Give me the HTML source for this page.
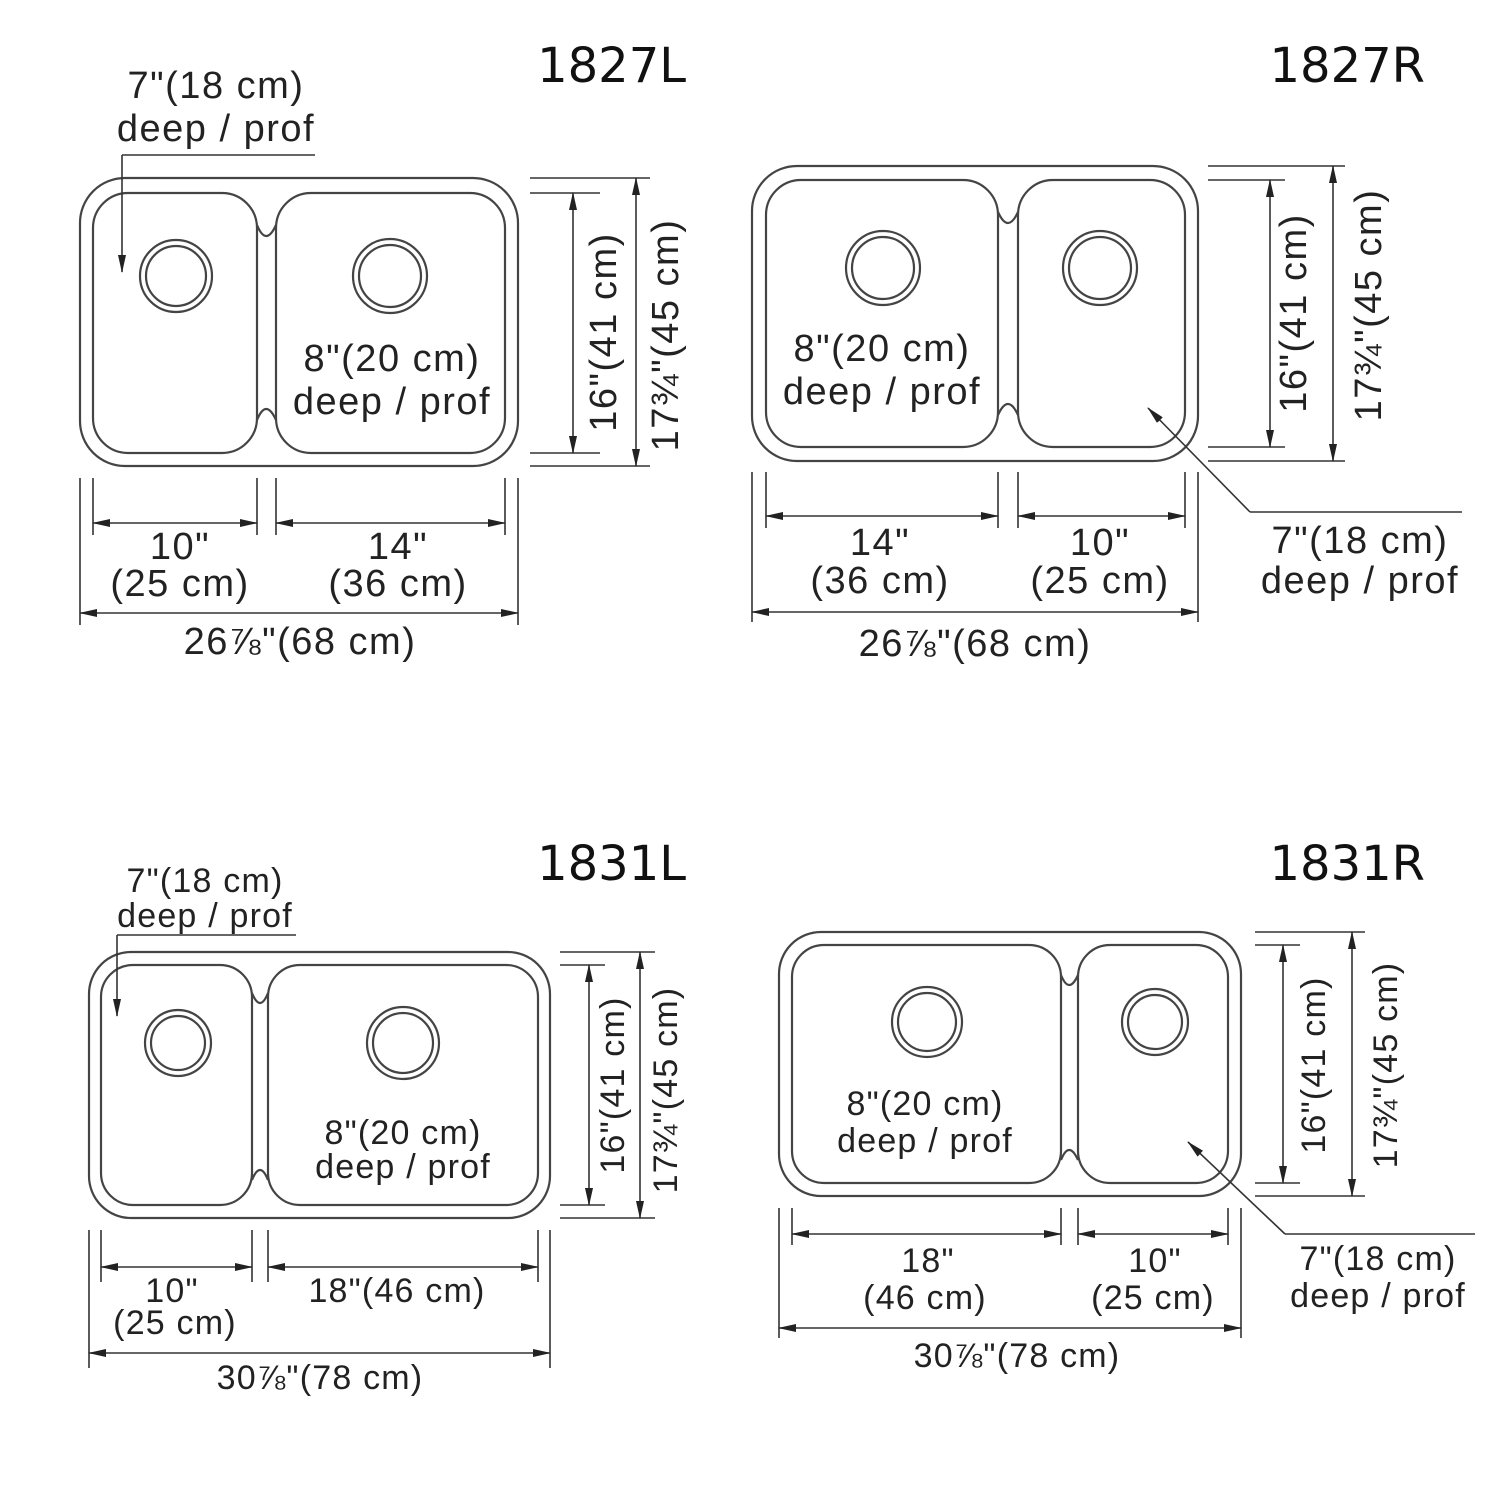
<!DOCTYPE html>
<html><head><meta charset="utf-8"><style>
html,body{margin:0;padding:0;background:#fff}
svg{display:block}
text{font-family:"Liberation Sans",sans-serif;fill:#222}
.t{font-size:38px;text-anchor:middle;letter-spacing:1.5px}
.s{font-size:34px;text-anchor:middle;letter-spacing:1.2px}
.h{font-size:48px;text-anchor:end;fill:#111;font-family:"DejaVu Sans","Liberation Sans",sans-serif}
.o{fill:none;stroke:#444;stroke-width:2.2}
.l{fill:none;stroke:#333;stroke-width:1.6}
.a{fill:none;stroke:#333;stroke-width:1.6;marker-start:url(#m);marker-end:url(#m)}
.a1{fill:none;stroke:#333;stroke-width:1.6;marker-end:url(#m)}
</style></head><body>
<svg width="1500" height="1500" viewBox="0 0 1500 1500" xmlns="http://www.w3.org/2000/svg">
<defs><marker id="m" markerWidth="18" markerHeight="8" refX="17" refY="4" orient="auto-start-reverse" markerUnits="userSpaceOnUse"><path d="M0,0 L18,4 L0,8 Z" fill="#222"/></marker></defs>

<!-- 1827L -->
<text class="h" x="686" y="82">1827L</text>
<rect class="o" x="80" y="178" width="438" height="288" rx="45"/>
<rect class="o" x="93" y="193" width="164" height="260" rx="35"/>
<rect class="o" x="276" y="193" width="229" height="260" rx="35"/>
<path class="o" d="M257,225 q9,22 19,0 M257,420 q9,-22 19,0"/>
<circle class="o" cx="176" cy="276" r="36"/><circle class="o" cx="176" cy="276" r="30"/>
<circle class="o" cx="390" cy="276" r="37"/><circle class="o" cx="390" cy="276" r="31"/>
<text class="t" x="392" y="371">8"(20 cm)</text><text class="t" x="392" y="414">deep / prof</text>
<path class="l" d="M530,178H650 M530,193H600 M530,453H600 M530,466H650"/>
<line class="a" x1="573" y1="193" x2="573" y2="453"/><line class="a" x1="636" y1="178" x2="636" y2="466"/>
<text class="t" transform="rotate(-90 603 332)" x="603" y="345">16"(41 cm)</text>
<text class="t" transform="rotate(-90 665 335)" x="665" y="348">17¾"(45 cm)</text>
<path class="l" d="M80,478V625 M93,478V535 M257,478V535 M276,478V535 M505,478V535 M518,478V625"/>
<line class="a" x1="93" y1="523" x2="257" y2="523"/><line class="a" x1="276" y1="523" x2="505" y2="523"/>
<line class="a" x1="80" y1="613" x2="518" y2="613"/>
<text class="t" x="180" y="559">10"</text><text class="t" x="180" y="596">(25 cm)</text>
<text class="t" x="398" y="559">14"</text><text class="t" x="398" y="596">(36 cm)</text>
<text class="t" x="300" y="654">26⅞"(68 cm)</text>
<text class="t" x="216" y="98">7"(18 cm)</text><text class="t" x="216" y="141">deep / prof</text>
<path class="l" d="M315,155H122"/><line class="a1" x1="122" y1="155" x2="122" y2="272"/>

<!-- 1827R -->
<text class="h" x="1425" y="82">1827R</text>
<rect class="o" x="752" y="166" width="446" height="295" rx="45"/>
<rect class="o" x="766" y="180" width="232" height="267" rx="35"/>
<rect class="o" x="1018" y="180" width="167" height="267" rx="35"/>
<path class="o" d="M998,212 q10,22 20,0 M998,415 q10,-22 20,0"/>
<circle class="o" cx="883" cy="268" r="37"/><circle class="o" cx="883" cy="268" r="31"/>
<circle class="o" cx="1100" cy="268" r="37"/><circle class="o" cx="1100" cy="268" r="31"/>
<text class="t" x="882" y="361">8"(20 cm)</text><text class="t" x="882" y="404">deep / prof</text>
<path class="l" d="M1208,166H1345 M1208,180H1285 M1208,447H1285 M1208,461H1345"/>
<line class="a" x1="1270" y1="180" x2="1270" y2="447"/><line class="a" x1="1333" y1="166" x2="1333" y2="461"/>
<text class="t" transform="rotate(-90 1293 313)" x="1293" y="326">16"(41 cm)</text>
<text class="t" transform="rotate(-90 1368 305)" x="1368" y="318">17¾"(45 cm)</text>
<path class="l" d="M752,472V622 M766,472V528 M998,472V528 M1018,472V528 M1185,472V528 M1198,472V622"/>
<line class="a" x1="766" y1="516" x2="998" y2="516"/><line class="a" x1="1018" y1="516" x2="1185" y2="516"/>
<line class="a" x1="752" y1="612" x2="1198" y2="612"/>
<text class="t" x="880" y="555">14"</text><text class="t" x="880" y="593">(36 cm)</text>
<text class="t" x="1100" y="555">10"</text><text class="t" x="1100" y="593">(25 cm)</text>
<text class="t" x="975" y="656">26⅞"(68 cm)</text>
<path class="l" d="M1462,512H1250"/><line class="a1" x1="1250" y1="512" x2="1148" y2="408"/>
<text class="t" x="1360" y="553">7"(18 cm)</text><text class="t" x="1360" y="593">deep / prof</text>

<!-- 1831L -->
<text class="h" x="686" y="880">1831L</text>
<rect class="o" x="89" y="952" width="461" height="266" rx="42"/>
<rect class="o" x="101" y="965" width="151" height="240" rx="32"/>
<rect class="o" x="268" y="965" width="270" height="240" rx="32"/>
<path class="o" d="M252,993 q8,20 16,0 M252,1180 q8,-20 16,0"/>
<circle class="o" cx="178" cy="1043" r="33"/><circle class="o" cx="178" cy="1043" r="27"/>
<circle class="o" cx="403" cy="1043" r="36"/><circle class="o" cx="403" cy="1043" r="30"/>
<text class="s" x="403" y="1144">8"(20 cm)</text><text class="s" x="403" y="1178">deep / prof</text>
<path class="l" d="M560,952H655 M560,965H605 M560,1205H605 M560,1218H655"/>
<line class="a" x1="589" y1="965" x2="589" y2="1205"/><line class="a" x1="640" y1="952" x2="640" y2="1218"/>
<text class="s" transform="rotate(-90 612 1085)" x="612" y="1097">16"(41 cm)</text>
<text class="s" transform="rotate(-90 665 1090)" x="665" y="1102">17¾"(45 cm)</text>
<path class="l" d="M89,1230V1368 M101,1230V1282 M252,1230V1282 M268,1230V1282 M538,1230V1282 M550,1230V1368"/>
<line class="a" x1="101" y1="1267" x2="252" y2="1267"/><line class="a" x1="268" y1="1267" x2="538" y2="1267"/>
<line class="a" x1="89" y1="1353" x2="550" y2="1353"/>
<text class="s" x="172" y="1302">10"</text><text class="s" x="175" y="1334">(25 cm)</text>
<text class="s" x="397" y="1302">18"(46 cm)</text>
<text class="s" x="320" y="1389">30⅞"(78 cm)</text>
<text class="s" x="205" y="892">7"(18 cm)</text><text class="s" x="205" y="927">deep / prof</text>
<path class="l" d="M296,935H117"/><line class="a1" x1="117" y1="935" x2="117" y2="1016"/>

<!-- 1831R -->
<text class="h" x="1425" y="880">1831R</text>
<rect class="o" x="779" y="932" width="462" height="264" rx="42"/>
<rect class="o" x="792" y="945" width="269" height="238" rx="32"/>
<rect class="o" x="1078" y="945" width="150" height="238" rx="32"/>
<path class="o" d="M1061,975 q8,20 17,0 M1061,1160 q8,-20 17,0"/>
<circle class="o" cx="927" cy="1022" r="35"/><circle class="o" cx="927" cy="1022" r="29"/>
<circle class="o" cx="1155" cy="1022" r="33"/><circle class="o" cx="1155" cy="1022" r="27"/>
<text class="s" x="925" y="1115">8"(20 cm)</text><text class="s" x="925" y="1152">deep / prof</text>
<path class="l" d="M1255,932H1365 M1255,945H1300 M1255,1183H1300 M1255,1196H1365"/>
<line class="a" x1="1283" y1="945" x2="1283" y2="1183"/><line class="a" x1="1352" y1="932" x2="1352" y2="1196"/>
<text class="s" transform="rotate(-90 1313 1065)" x="1313" y="1077">16"(41 cm)</text>
<text class="s" transform="rotate(-90 1385 1065)" x="1385" y="1077">17¾"(45 cm)</text>
<path class="l" d="M779,1208V1338 M792,1208V1245 M1061,1208V1245 M1078,1208V1245 M1228,1208V1245 M1241,1208V1338"/>
<line class="a" x1="792" y1="1234" x2="1061" y2="1234"/><line class="a" x1="1078" y1="1234" x2="1228" y2="1234"/>
<line class="a" x1="779" y1="1328" x2="1241" y2="1328"/>
<text class="s" x="928" y="1272">18"</text><text class="s" x="925" y="1309">(46 cm)</text>
<text class="s" x="1155" y="1272">10"</text><text class="s" x="1153" y="1309">(25 cm)</text>
<text class="s" x="1017" y="1367">30⅞"(78 cm)</text>
<path class="l" d="M1475,1234H1285"/><line class="a1" x1="1285" y1="1234" x2="1188" y2="1142"/>
<text class="s" x="1378" y="1270">7"(18 cm)</text><text class="s" x="1378" y="1307">deep / prof</text>
</svg>
</body></html>
